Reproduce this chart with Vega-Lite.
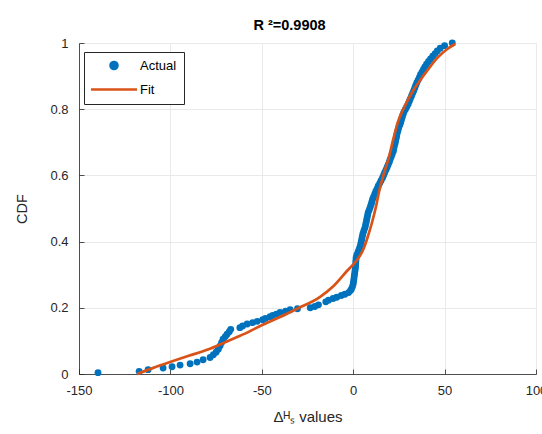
{
  "$schema": "https://vega.github.io/schema/vega-lite/v6.json",
  "width": 457,
  "height": 331,
  "autosize": {"type": "none"},
  "padding": {"left": 79, "top": 43, "right": 6, "bottom": 60},
  "background": "white",
  "title": {"text": "R ²=0.9908", "fontSize": 14.5, "fontWeight": "bold", "color": "black", "offset": 4, "dx": -18},
  "datasets": {
    "actual": [
      {"x": -139.6, "cdf": 0.004, "series": "Actual"}, {"x": -117.1, "cdf": 0.008, "series": "Actual"}, {"x": -112.2, "cdf": 0.013, "series": "Actual"}, {"x": -104.0, "cdf": 0.018, "series": "Actual"},
      {"x": -99.1, "cdf": 0.022, "series": "Actual"}, {"x": -94.7, "cdf": 0.027, "series": "Actual"}, {"x": -89.2, "cdf": 0.031, "series": "Actual"}, {"x": -85.4, "cdf": 0.036, "series": "Actual"},
      {"x": -82.1, "cdf": 0.043, "series": "Actual"}, {"x": -78.3, "cdf": 0.05, "series": "Actual"}, {"x": -76.5, "cdf": 0.058, "series": "Actual"}, {"x": -75.0, "cdf": 0.066, "series": "Actual"},
      {"x": -73.8, "cdf": 0.075, "series": "Actual"}, {"x": -72.8, "cdf": 0.085, "series": "Actual"}, {"x": -72.0, "cdf": 0.095, "series": "Actual"}, {"x": -71.2, "cdf": 0.105, "series": "Actual"},
      {"x": -70.0, "cdf": 0.113, "series": "Actual"}, {"x": -69.0, "cdf": 0.12, "series": "Actual"}, {"x": -67.8, "cdf": 0.128, "series": "Actual"}, {"x": -67.0, "cdf": 0.135, "series": "Actual"},
      {"x": -62.0, "cdf": 0.14, "series": "Actual"}, {"x": -60.5, "cdf": 0.145, "series": "Actual"}, {"x": -58.0, "cdf": 0.151, "series": "Actual"}, {"x": -55.0, "cdf": 0.155, "series": "Actual"},
      {"x": -52.5, "cdf": 0.159, "series": "Actual"}, {"x": -49.5, "cdf": 0.164, "series": "Actual"}, {"x": -48.0, "cdf": 0.168, "series": "Actual"}, {"x": -45.5, "cdf": 0.173, "series": "Actual"},
      {"x": -44.0, "cdf": 0.177, "series": "Actual"}, {"x": -42.0, "cdf": 0.181, "series": "Actual"}, {"x": -40.0, "cdf": 0.186, "series": "Actual"}, {"x": -37.0, "cdf": 0.19, "series": "Actual"},
      {"x": -34.5, "cdf": 0.194, "series": "Actual"}, {"x": -30.5, "cdf": 0.197, "series": "Actual"}, {"x": -23.5, "cdf": 0.2, "series": "Actual"}, {"x": -21.0, "cdf": 0.204, "series": "Actual"},
      {"x": -19.0, "cdf": 0.209, "series": "Actual"}, {"x": -15.0, "cdf": 0.218, "series": "Actual"}, {"x": -13.5, "cdf": 0.223, "series": "Actual"}, {"x": -11.0, "cdf": 0.228, "series": "Actual"},
      {"x": -9.0, "cdf": 0.232, "series": "Actual"}, {"x": -6.5, "cdf": 0.237, "series": "Actual"}, {"x": -4.5, "cdf": 0.241, "series": "Actual"}, {"x": -2.5, "cdf": 0.246, "series": "Actual"},
      {"x": -1.5, "cdf": 0.252, "series": "Actual"}, {"x": -1.0, "cdf": 0.256, "series": "Actual"}, {"x": -0.4, "cdf": 0.264, "series": "Actual"}, {"x": 0.0, "cdf": 0.272, "series": "Actual"},
      {"x": 0.2, "cdf": 0.28, "series": "Actual"}, {"x": 0.4, "cdf": 0.288, "series": "Actual"}, {"x": 0.6, "cdf": 0.296, "series": "Actual"}, {"x": 0.8, "cdf": 0.304, "series": "Actual"},
      {"x": 1.0, "cdf": 0.312, "series": "Actual"}, {"x": 1.2, "cdf": 0.32, "series": "Actual"}, {"x": 1.3, "cdf": 0.328, "series": "Actual"}, {"x": 1.4, "cdf": 0.336, "series": "Actual"},
      {"x": 1.5, "cdf": 0.344, "series": "Actual"}, {"x": 1.6, "cdf": 0.352, "series": "Actual"}, {"x": 2.0, "cdf": 0.36, "series": "Actual"}, {"x": 2.6, "cdf": 0.368, "series": "Actual"},
      {"x": 3.2, "cdf": 0.376, "series": "Actual"}, {"x": 3.7, "cdf": 0.384, "series": "Actual"}, {"x": 4.1, "cdf": 0.392, "series": "Actual"}, {"x": 4.4, "cdf": 0.4, "series": "Actual"},
      {"x": 4.7, "cdf": 0.408, "series": "Actual"}, {"x": 5.0, "cdf": 0.416, "series": "Actual"}, {"x": 5.3, "cdf": 0.424, "series": "Actual"}, {"x": 5.8, "cdf": 0.432, "series": "Actual"},
      {"x": 6.3, "cdf": 0.44, "series": "Actual"}, {"x": 6.7, "cdf": 0.448, "series": "Actual"}, {"x": 7.0, "cdf": 0.456, "series": "Actual"}, {"x": 7.3, "cdf": 0.464, "series": "Actual"},
      {"x": 7.6, "cdf": 0.472, "series": "Actual"}, {"x": 7.9, "cdf": 0.48, "series": "Actual"}, {"x": 8.2, "cdf": 0.488, "series": "Actual"}, {"x": 8.8, "cdf": 0.496, "series": "Actual"},
      {"x": 9.3, "cdf": 0.504, "series": "Actual"}, {"x": 9.8, "cdf": 0.512, "series": "Actual"}, {"x": 10.2, "cdf": 0.52, "series": "Actual"}, {"x": 10.6, "cdf": 0.528, "series": "Actual"},
      {"x": 11.2, "cdf": 0.536, "series": "Actual"}, {"x": 11.8, "cdf": 0.544, "series": "Actual"}, {"x": 12.4, "cdf": 0.552, "series": "Actual"}, {"x": 13.1, "cdf": 0.56, "series": "Actual"},
      {"x": 13.7, "cdf": 0.568, "series": "Actual"}, {"x": 14.5, "cdf": 0.576, "series": "Actual"}, {"x": 15.2, "cdf": 0.584, "series": "Actual"}, {"x": 16.0, "cdf": 0.592, "series": "Actual"},
      {"x": 16.6, "cdf": 0.6, "series": "Actual"}, {"x": 17.2, "cdf": 0.608, "series": "Actual"}, {"x": 17.9, "cdf": 0.616, "series": "Actual"}, {"x": 18.5, "cdf": 0.624, "series": "Actual"},
      {"x": 19.1, "cdf": 0.632, "series": "Actual"}, {"x": 19.7, "cdf": 0.64, "series": "Actual"}, {"x": 20.2, "cdf": 0.648, "series": "Actual"}, {"x": 20.8, "cdf": 0.656, "series": "Actual"},
      {"x": 21.3, "cdf": 0.664, "series": "Actual"}, {"x": 21.9, "cdf": 0.672, "series": "Actual"}, {"x": 22.2, "cdf": 0.68, "series": "Actual"}, {"x": 22.5, "cdf": 0.688, "series": "Actual"},
      {"x": 22.9, "cdf": 0.696, "series": "Actual"}, {"x": 23.2, "cdf": 0.704, "series": "Actual"}, {"x": 23.5, "cdf": 0.712, "series": "Actual"}, {"x": 23.8, "cdf": 0.72, "series": "Actual"},
      {"x": 24.1, "cdf": 0.728, "series": "Actual"}, {"x": 24.5, "cdf": 0.736, "series": "Actual"}, {"x": 24.9, "cdf": 0.744, "series": "Actual"}, {"x": 25.5, "cdf": 0.752, "series": "Actual"},
      {"x": 26.0, "cdf": 0.76, "series": "Actual"}, {"x": 26.4, "cdf": 0.768, "series": "Actual"}, {"x": 26.8, "cdf": 0.776, "series": "Actual"}, {"x": 27.3, "cdf": 0.784, "series": "Actual"},
      {"x": 27.8, "cdf": 0.792, "series": "Actual"}, {"x": 28.6, "cdf": 0.8, "series": "Actual"}, {"x": 29.4, "cdf": 0.808, "series": "Actual"}, {"x": 30.1, "cdf": 0.816, "series": "Actual"},
      {"x": 30.7, "cdf": 0.824, "series": "Actual"}, {"x": 31.3, "cdf": 0.832, "series": "Actual"}, {"x": 31.9, "cdf": 0.84, "series": "Actual"}, {"x": 32.5, "cdf": 0.848, "series": "Actual"},
      {"x": 33.1, "cdf": 0.856, "series": "Actual"}, {"x": 33.7, "cdf": 0.864, "series": "Actual"}, {"x": 34.2, "cdf": 0.872, "series": "Actual"}, {"x": 34.8, "cdf": 0.88, "series": "Actual"},
      {"x": 35.5, "cdf": 0.888, "series": "Actual"}, {"x": 36.2, "cdf": 0.896, "series": "Actual"}, {"x": 36.8, "cdf": 0.904, "series": "Actual"}, {"x": 37.6, "cdf": 0.912, "series": "Actual"},
      {"x": 38.4, "cdf": 0.92, "series": "Actual"}, {"x": 39.2, "cdf": 0.928, "series": "Actual"}, {"x": 40.1, "cdf": 0.936, "series": "Actual"}, {"x": 41.2, "cdf": 0.944, "series": "Actual"},
      {"x": 42.3, "cdf": 0.952, "series": "Actual"}, {"x": 43.5, "cdf": 0.96, "series": "Actual"}, {"x": 44.8, "cdf": 0.968, "series": "Actual"}, {"x": 46.0, "cdf": 0.976, "series": "Actual"},
      {"x": 47.6, "cdf": 0.984, "series": "Actual"}, {"x": 50.0, "cdf": 0.992, "series": "Actual"}, {"x": 54.2, "cdf": 1.0, "series": "Actual"}
    ],
    "fit": [
      {"x": -118.2, "cdf": 0.0, "series": "Fit"}, {"x": -110.0, "cdf": 0.017, "series": "Fit"}, {"x": -100.2, "cdf": 0.036, "series": "Fit"}, {"x": -90.0, "cdf": 0.055, "series": "Fit"},
      {"x": -79.9, "cdf": 0.073, "series": "Fit"}, {"x": -67.3, "cdf": 0.103, "series": "Fit"}, {"x": -58.0, "cdf": 0.125, "series": "Fit"}, {"x": -49.8, "cdf": 0.148, "series": "Fit"},
      {"x": -40.0, "cdf": 0.172, "series": "Fit"}, {"x": -30.7, "cdf": 0.197, "series": "Fit"}, {"x": -18.1, "cdf": 0.233, "series": "Fit"}, {"x": -10.9, "cdf": 0.265, "series": "Fit"},
      {"x": -3.3, "cdf": 0.312, "series": "Fit"}, {"x": 2.2, "cdf": 0.345, "series": "Fit"}, {"x": 5.5, "cdf": 0.376, "series": "Fit"}, {"x": 7.7, "cdf": 0.41, "series": "Fit"},
      {"x": 10.4, "cdf": 0.46, "series": "Fit"}, {"x": 12.6, "cdf": 0.509, "series": "Fit"}, {"x": 14.2, "cdf": 0.552, "series": "Fit"}, {"x": 15.9, "cdf": 0.588, "series": "Fit"},
      {"x": 17.5, "cdf": 0.618, "series": "Fit"}, {"x": 19.2, "cdf": 0.648, "series": "Fit"}, {"x": 21.9, "cdf": 0.709, "series": "Fit"}, {"x": 24.6, "cdf": 0.764, "series": "Fit"},
      {"x": 27.9, "cdf": 0.806, "series": "Fit"}, {"x": 32.3, "cdf": 0.852, "series": "Fit"}, {"x": 36.7, "cdf": 0.888, "series": "Fit"}, {"x": 41.1, "cdf": 0.921, "series": "Fit"},
      {"x": 46.0, "cdf": 0.955, "series": "Fit"}, {"x": 51.5, "cdf": 0.982, "series": "Fit"}, {"x": 55.8, "cdf": 0.997, "series": "Fit"}
    ]
  },
  "encoding": {
    "x": {
      "field": "x", "type": "quantitative",
      "scale": {"domain": [-150, 100], "nice": false, "zero": false},
      "axis": {"values": [-150, -100, -50, 0, 50, 100], "title": "Δᴴₛ values", "labelExpr": "'' + datum.value", "labelPadding": 15, "titlePadding": 12, "titleFontSize": 15}
    },
    "y": {
      "field": "cdf", "type": "quantitative",
      "scale": {"domain": [0, 1], "nice": false},
      "axis": {"values": [0, 0.2, 0.4, 0.6, 0.8, 1], "title": "CDF", "labelExpr": "'' + datum.value", "labelPadding": 16, "titlePadding": 20}
    },
    "color": {
      "field": "series", "type": "nominal",
      "scale": {"domain": ["Actual", "Fit"], "range": ["#0072BD", "#D95319"]},
      "legend": {
        "title": null,
        "orient": "none",
        "legendX": 5,
        "legendY": 9,
        "fillColor": "white",
        "strokeColor": "#262626",
        "padding": 7,
        "labelFontSize": 13,
        "labelColor": "black",
        "symbolSize": 2116,
        "labelOffset": 3,
        "rowPadding": 8,
        "encode": {
          "symbols": {
            "enter": {
              "shape": {"signal": "datum.value === 'Fit' ? 'stroke' : 'circle'"},
              "size": {"signal": "datum.value === 'Fit' ? 2116 : 47"},
              "strokeWidth": {"value": 2.7}
            },
            "update": {
              "x": {"value": 23},
              "shape": {"signal": "datum.value === 'Fit' ? 'stroke' : 'circle'"},
              "size": {"signal": "datum.value === 'Fit' ? 2116 : 47"},
              "fill": {"signal": "datum.value === 'Fit' ? 'transparent' : '#0072BD'"},
              "stroke": {"signal": "datum.value === 'Fit' ? '#D95319' : 'transparent'"},
              "strokeWidth": {"value": 2.7},
              "opacity": {"value": 1}
            }
          },
          "labels": {
            "update": {
              "x": {"value": 49}
            }
          }
        }
      }
    }
  },
  "layer": [
    {
      "data": {"name": "actual"},
      "mark": {"type": "point", "filled": true, "size": 47, "opacity": 1}
    },
    {
      "data": {"name": "fit"},
      "mark": {"type": "line", "strokeWidth": 2.7, "interpolate": "monotone"}
    }
  ],
  "config": {
    "font": "Liberation Sans",
    "view": {"stroke": null},
    "axis": {
      "domainColor": "#262626",
      "domainWidth": 0.8,
      "tickColor": "#262626",
      "tickWidth": 0.8,
      "tickSize": -5,
      "labelFontSize": 13,
      "labelColor": "#262626",
      "labelFlush": false,
      "labelOverlap": false,
      "gridColor": "#e3e3e3",
      "gridWidth": 0.8,
      "titleFontSize": 14.5,
      "titleFontWeight": "normal",
      "titleColor": "#262626"
    }
  }
}
